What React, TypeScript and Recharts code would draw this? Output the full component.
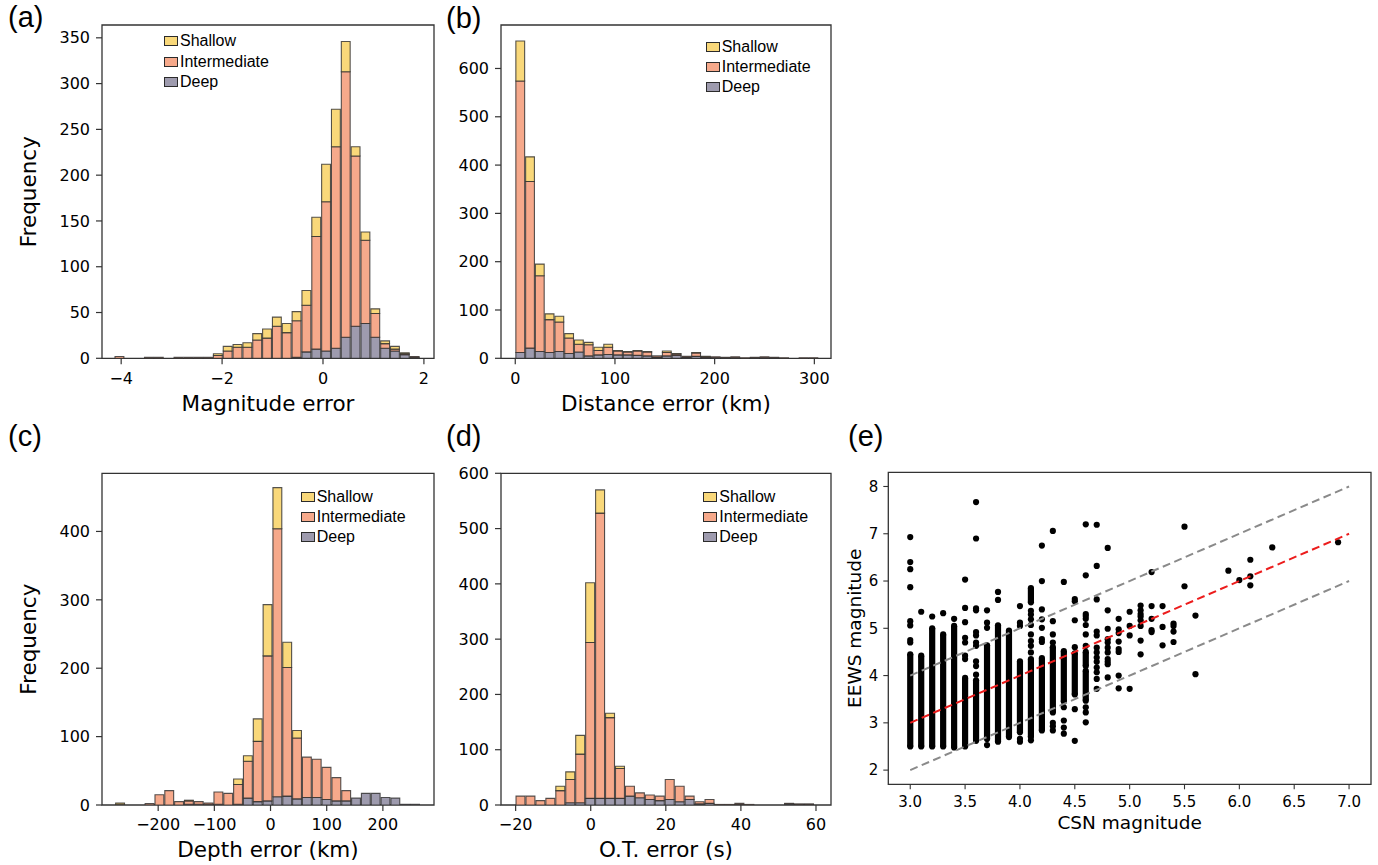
import React from 'react';
import { ComposedChart, ScatterChart, Bar, Scatter, XAxis, YAxis, Legend, ReferenceArea, Label } from 'recharts';

// ---------- shared series meta ----------
const SERIES_NAMES = ['Shallow', 'Intermediate', 'Deep'];
const SERIES_COLORS = ['#f9d87a', '#f6a98b', '#9e9bae'];
const EDGE = '#2b2b2b';

// ---------- (a) Magnitude error ----------
const MAG_BIN_START = -4.122;
const MAG_BIN_WIDTH = 0.195;
const MAG_DEEP = [0, 0, 0, 0, 0, 0, 0, 0, 0, 0, 0, 0, 0, 0, 0, 0, 0, 0, 1, 7, 10, 8, 11, 23, 35, 38, 23, 11, 8, 4, 1];
const MAG_INTER = [2, 0, 0, 1, 1, 0, 1, 1, 1, 1, 3, 8, 12, 12, 20, 22, 35, 28, 40, 51, 123, 163, 220, 290, 186, 91, 26, 5, 2, 1, 1];
const MAG_SHALLOW = [0, 0, 0, 0, 0, 0, 0, 0, 0, 0, 2, 5, 3, 5, 7, 10, 10, 10, 10, 16, 21, 41, 41, 33, 10, 9, 5, 3, 3, 1, 0];
const MAG_X_TICKS = [-4, -2, 0, 2];
const MAG_Y_TICKS = [0, 50, 100, 150, 200, 250, 300, 350];

// ---------- (b) Distance error ----------
const DIST_BIN_START = 0.6;
const DIST_BIN_WIDTH = 9.8;
const DIST_DEEP = [12, 21, 14, 12, 14, 10, 13, 5, 7, 8, 7, 7, 6, 5, 2, 5, 6, 2, 4, 1, 1, 1, 1, 0, 1, 1, 1, 0, 0, 0, 0];
const DIST_INTER = [562, 345, 157, 68, 61, 32, 16, 23, 9, 15, 8, 6, 9, 8, 3, 7, 3, 2, 7, 2, 2, 1, 2, 1, 1, 2, 1, 1, 0, 1, 1];
const DIST_SHALLOW = [83, 51, 24, 12, 12, 9, 9, 5, 7, 6, 1, 1, 1, 1, 0, 3, 1, 0, 1, 1, 0, 0, 0, 0, 0, 0, 0, 0, 0, 0, 0];
const DIST_X_TICKS = [0, 100, 200, 300];
const DIST_Y_TICKS = [0, 100, 200, 300, 400, 500, 600];

// ---------- (c) Depth error ----------
const DEPTH_BIN_START = -275.7;
const DEPTH_BIN_WIDTH = 17.5;
const DEPTH_DEEP = [0, 0, 0, 0, 0, 0, 0, 1, 1, 1, 1, 0, 1, 10, 5, 6, 12, 13, 9, 11, 11, 8, 6, 6, 10, 17, 17, 11, 10, 1, 1];
const DEPTH_INTER = [1, 0, 0, 2, 15, 21, 5, 5, 4, 2, 18, 17, 29, 54, 88, 212, 392, 188, 89, 59, 56, 47, 34, 15, 0, 0, 0, 0, 0, 0, 0];
const DEPTH_SHALLOW = [2, 0, 0, 0, 0, 0, 0, 1, 0, 0, 0, 0, 8, 8, 33, 75, 60, 37, 11, 0, 0, 0, 0, 0, 0, 0, 0, 0, 0, 0, 0];
const DEPTH_X_TICKS = [-200, -100, 0, 100, 200];
const DEPTH_Y_TICKS = [0, 100, 200, 300, 400];

// ---------- (d) Origin-time error ----------
const OT_BIN_START = -19.9;
const OT_BIN_WIDTH = 2.65;
const OT_DEEP = [0, 0, 0, 0, 0, 4, 4, 12, 12, 12, 12, 16, 13, 10, 8, 10, 6, 10, 2, 3, 0, 0, 1, 0, 0, 0, 0, 2, 1, 1];
const OT_INTER = [16, 16, 8, 12, 26, 42, 88, 282, 516, 146, 54, 18, 9, 8, 8, 36, 28, 6, 4, 7, 1, 1, 2, 1, 0, 0, 0, 1, 1, 1];
const OT_SHALLOW = [0, 0, 0, 0, 8, 14, 34, 108, 42, 8, 4, 0, 0, 0, 0, 0, 0, 0, 0, 0, 0, 0, 0, 0, 0, 0, 0, 0, 0, 0];
const OT_X_TICKS = [-20, 0, 20, 40, 60];
const OT_Y_TICKS = [0, 100, 200, 300, 400, 500, 600];

// ---------- (e) CSN vs EEWS magnitude ----------
const CSN_TICKS = [3.0, 3.5, 4.0, 4.5, 5.0, 5.5, 6.0, 6.5, 7.0];
const EEWS_TICKS = [2, 3, 4, 5, 6, 7, 8];
// dense runs of overlapping events: [CSN magnitude, lowest EEWS, highest EEWS]
const EEWS_DENSE: [number, number, number][] = [
  [3.0, 2.5, 4.45], [3.1, 2.5, 4.42], [3.2, 2.5, 5.0], [3.3, 2.5, 4.87], [3.4, 2.48, 5.05],
  [3.5, 2.5, 3.95], [3.6, 2.62, 3.9], [3.7, 2.66, 4.64], [3.8, 2.6, 5.06], [3.9, 2.7, 4.95],
  [4.0, 2.8, 4.3], [4.1, 2.7, 4.35], [4.1, 5.55, 5.85], [4.2, 2.84, 4.37], [4.3, 3.22, 4.6],
  [4.4, 3.45, 4.52], [4.5, 3.6, 4.47], [4.6, 4.2, 4.5], [4.6, 3.47, 4.1],
];
// individual events: [CSN magnitude, EEWS magnitudes]
const EEWS_ISOLATED: [number, number[]][] = [
  [3.0, [6.93, 6.4, 6.25, 5.87, 5.15, 5.06, 4.75, 4.7]],
  [3.1, [5.35]],
  [3.2, [5.25]],
  [3.3, [5.32]],
  [3.4, [5.2]],
  [3.5, [6.03, 5.43, 5.13, 4.8, 4.7, 4.42, 4.35]],
  [3.6, [7.67, 6.9, 5.42, 5.38, 4.92, 4.85, 4.7, 4.63, 4.3, 4.2, 4.02]],
  [3.7, [5.38, 5.12, 5.01, 2.53]],
  [3.8, [5.77, 5.6]],
  [4.0, [5.47, 5.12, 5.05, 2.66, 2.6]],
  [4.1, [5.37, 5.29, 5.19, 5.07, 4.87, 4.73, 4.63, 4.49, 2.63]],
  [4.2, [6.75, 6.0, 5.4, 5.19, 5.01, 4.77, 4.71]],
  [4.3, [7.06, 5.15, 4.87, 4.7, 3.0, 2.93, 2.84]],
  [4.4, [5.98, 3.33, 3.05, 2.9, 2.77]],
  [4.5, [5.62, 5.57, 5.17, 4.6, 3.29, 2.62]],
  [4.6, [7.2, 6.12, 5.3, 5.26, 5.2, 5.07, 4.87, 4.63, 3.33, 3.22, 3.01]],
  [4.7, [7.19, 6.32, 5.61, 4.93, 4.85, 4.59, 4.49, 4.38, 4.29, 4.17, 4.07, 3.93, 3.72]],
  [4.8, [6.7, 5.38, 4.99, 4.77, 4.7, 4.59, 4.49, 4.35, 4.29, 4.24, 3.96]],
  [4.9, [5.2, 4.98, 4.9, 4.72, 4.56, 4.5, 4.0, 3.73]],
  [5.0, [5.35, 5.05, 4.85, 3.72]],
  [5.1, [5.48, 5.38, 5.3, 5.25, 5.17, 5.05, 4.74, 4.45]],
  [5.2, [6.19, 5.47, 5.2, 4.96, 4.92]],
  [5.3, [5.47, 5.03, 4.64]],
  [5.4, [5.1, 5.05, 4.93, 4.71]],
  [5.5, [7.15, 5.89]],
  [5.6, [5.27, 4.03]],
  [5.9, [6.22]],
  [6.0, [6.02]],
  [6.1, [6.45, 6.1, 5.91]],
  [6.3, [6.71]],
  [6.9, [6.82]],
];
// reference lines: endpoints in CSN / EEWS units
const REF_LINES = [
  { name: 'plus one', x: [3, 7], y: [4, 8], color: '#8a8a8a' },
  { name: 'minus one', x: [3, 7], y: [2, 6], color: '#8a8a8a' },
  { name: 'one to one', x: [3, 7], y: [3, 7], color: '#ec1c1c' },
];

// ---------- styling ----------
const TICK_FONT = '"DejaVu Sans", sans-serif';
const TEXT_FONT = '"DejaVu Sans", sans-serif';
const LEGEND_FONT = '"Liberation Sans", Arial, sans-serif';
const fmtMinus = (v: number) => (v < 0 ? '\u2212' + Math.abs(v) : String(v));

type Box = { l: number; t: number; r: number; b: number };

function buildBins(start: number, width: number, deep: number[], inter: number[], shallow: number[]) {
  return deep.map((d, i) => ({ x: start + width * (i + 0.5), deep: d, inter: inter[i], shallow: shallow[i] }));
}

function HistLegend() {
  return (
    <div style={{ fontFamily: LEGEND_FONT, fontSize: 16, color: '#000', lineHeight: '20px' }}>
      {SERIES_NAMES.map((n, i) => (
        <div key={n} style={{ display: 'flex', alignItems: 'center', height: 20.2, whiteSpace: 'nowrap' }}>
          <span
            style={{
              display: 'inline-block',
              width: 14,
              height: 10,
              boxSizing: 'border-box',
              background: SERIES_COLORS[i],
              border: `1.4px solid ${EDGE}`,
            }}
          />
          <span style={{ marginLeft: 2 }}>{n}</span>
        </div>
      ))}
    </div>
  );
}

type HistProps = {
  origin: [number, number];
  size: [number, number];
  box: Box;
  xDomain: [number, number];
  yDomain: [number, number];
  xTicks: number[];
  yTicks: number[];
  data: { x: number; deep: number; inter: number; shallow: number }[];
  binWidth: number;
  xLabel: string;
  yLabel?: string;
  panel: string;
  panelPos: [number, number];
  legendPos: [number, number];
};

function Hist(p: HistProps) {
  const [ox, oy] = p.origin;
  const [W, H] = p.size;
  const YW = 50;
  const XH = 60;
  const margin = {
    top: p.box.t - oy,
    right: ox + W - p.box.r,
    bottom: oy + H - p.box.b - XH,
    left: p.box.l - ox - YW,
  };
  const pxPerUnit = (p.box.r - p.box.l) / (p.xDomain[1] - p.xDomain[0]);
  const barSize = p.binWidth * pxPerUnit;
  const labels = () => (
    <g>
      <text
        x={(p.box.l + p.box.r) / 2 - ox}
        y={p.box.b + 52.4 - oy}
        textAnchor="middle"
        fontFamily={TEXT_FONT}
        fontSize={21.5}
        fill="#000"
      >
        {p.xLabel}
      </text>
      {p.yLabel ? (
        <text
          transform={`translate(${36 - ox}, ${(p.box.t + p.box.b) / 2 - oy}) rotate(-90)`}
          textAnchor="middle"
          fontFamily={TEXT_FONT}
          fontSize={21.5}
          fill="#000"
        >
          {p.yLabel}
        </text>
      ) : null}
      <text x={p.panelPos[0] - ox} y={p.panelPos[1] - oy} fontFamily={LEGEND_FONT} fontSize={29} fill="#000">
        {p.panel}
      </text>
    </g>
  );
  const barCommon = {
    stackId: 's',
    stroke: EDGE,
    strokeWidth: 1.1,
    strokeOpacity: 0.8,
    barSize,
    isAnimationActive: false,
  };
  return (
    <div style={{ position: 'absolute', left: ox, top: oy, width: W, height: H }}>
      <ComposedChart width={W} height={H} data={p.data} margin={margin} barCategoryGap={0} barGap={0}>
        <XAxis
          type="number"
          dataKey="x"
          domain={p.xDomain}
          allowDataOverflow
          ticks={p.xTicks}
          interval={0}
          tickFormatter={fmtMinus}
          height={XH}
          axisLine={false}
          tickLine={{ stroke: '#333', strokeWidth: 1.2 }}
          tickSize={6}
          tickMargin={8}
          tick={{ fontSize: 16, fontFamily: TICK_FONT, fill: '#000' }}
        >
          <Label content={labels} />
        </XAxis>
        <YAxis
          type="number"
          domain={p.yDomain}
          allowDataOverflow
          ticks={p.yTicks}
          interval={0}
          width={YW}
          axisLine={false}
          tickLine={{ stroke: '#333', strokeWidth: 1.2 }}
          tickSize={6}
          tickMargin={6}
          tick={{ fontSize: 16, fontFamily: TICK_FONT, fill: '#000' }}
        />
        <Bar dataKey="deep" name={SERIES_NAMES[2]} fill={SERIES_COLORS[2]} {...barCommon} />
        <Bar dataKey="inter" name={SERIES_NAMES[1]} fill={SERIES_COLORS[1]} {...barCommon} />
        <Bar dataKey="shallow" name={SERIES_NAMES[0]} fill={SERIES_COLORS[0]} {...barCommon} />
        <ReferenceArea
          x1={p.xDomain[0]}
          x2={p.xDomain[1]}
          y1={p.yDomain[0]}
          y2={p.yDomain[1]}
          fill="none"
          fillOpacity={0}
          stroke="#333"
          strokeWidth={1.3}
          ifOverflow="visible"
        />
        <Legend
          layout="vertical"
          align="center"
          verticalAlign="middle"
          wrapperStyle={{ left: p.legendPos[0] - ox, top: p.legendPos[1] - oy, width: 'auto', height: 'auto' }}
          content={() => <HistLegend />}
        />
      </ComposedChart>
    </div>
  );
}

const dotShape = (props: any) => <circle cx={props.cx} cy={props.cy} r={3.1} fill="#000" />;
const noShape = () => <g />;

function ScatterPanel() {
  const ox = 840;
  const oy = 420;
  const W = 538;
  const H = 445;
  const box: Box = { l: 888.3, t: 472.3, r: 1371, b: 784.3 };
  const YW = 40;
  const XH = 60;
  const margin = {
    top: box.t - oy,
    right: ox + W - box.r,
    bottom: oy + H - box.b - XH,
    left: box.l - ox - YW,
  };
  const xDomain: [number, number] = [2.8, 7.2];
  const yDomain: [number, number] = [1.7, 8.3];
  const isolated = EEWS_ISOLATED.flatMap(([x, ys]) => ys.map((y) => ({ x, y })));
  const labels = () => (
    <g>
      <text x={(box.l + box.r) / 2 - ox} y={829.3 - oy} textAnchor="middle" fontFamily={TEXT_FONT} fontSize={18.5} fill="#000">
        CSN magnitude
      </text>
      <text
        transform={`translate(${861 - ox}, ${(box.t + box.b) / 2 - oy}) rotate(-90)`}
        textAnchor="middle"
        fontFamily={TEXT_FONT}
        fontSize={18.5}
        fill="#000"
      >
        EEWS magnitude
      </text>
      <text x={848 - ox} y={446 - oy} fontFamily={LEGEND_FONT} fontSize={29} fill="#000">
        (e)
      </text>
    </g>
  );
  return (
    <div style={{ position: 'absolute', left: ox, top: oy, width: W, height: H }}>
      <ScatterChart width={W} height={H} margin={margin}>
        <XAxis
          type="number"
          dataKey="x"
          domain={xDomain}
          allowDataOverflow
          ticks={CSN_TICKS}
          interval={0}
          tickFormatter={(v: number) => v.toFixed(1)}
          height={XH}
          axisLine={false}
          tickLine={{ stroke: '#333', strokeWidth: 1.1 }}
          tickSize={5}
          tickMargin={7}
          tick={{ fontSize: 15, fontFamily: TICK_FONT, fill: '#000' }}
        >
          <Label content={labels} />
        </XAxis>
        <YAxis
          type="number"
          dataKey="y"
          domain={yDomain}
          allowDataOverflow
          ticks={EEWS_TICKS}
          interval={0}
          width={YW}
          axisLine={false}
          tickLine={{ stroke: '#333', strokeWidth: 1.1 }}
          tickSize={5}
          tickMargin={5}
          tick={{ fontSize: 15, fontFamily: TICK_FONT, fill: '#000' }}
        />
        {EEWS_DENSE.map(([x, lo, hi], i) => (
          <Scatter
            key={'d' + i}
            data={[
              { x, y: lo },
              { x, y: hi },
            ]}
            line={{ stroke: '#000', strokeWidth: 6.2 }}
            shape={dotShape}
            isAnimationActive={false}
          />
        ))}
        <Scatter data={isolated} shape={dotShape} isAnimationActive={false} />
        {REF_LINES.map((l) => (
          <Scatter
            key={l.name}
            name={l.name}
            data={[
              { x: l.x[0], y: l.y[0] },
              { x: l.x[1], y: l.y[1] },
            ]}
            line={{ stroke: l.color, strokeWidth: 2, strokeDasharray: '8 4.5' }}
            shape={noShape}
            isAnimationActive={false}
          />
        ))}
        <ReferenceArea
          x1={xDomain[0]}
          x2={xDomain[1]}
          y1={yDomain[0]}
          y2={yDomain[1]}
          fill="none"
          fillOpacity={0}
          stroke="#333"
          strokeWidth={1.3}
          ifOverflow="visible"
        />
      </ScatterChart>
    </div>
  );
}

export default function App() {
  return (
    <div style={{ position: 'absolute', left: 0, top: 0, width: 1378, height: 865, background: '#fff', overflow: 'hidden' }}>
      <Hist
        origin={[0, 0]}
        size={[440, 420]}
        box={{ l: 102, t: 25, r: 434, b: 358.3 }}
        xDomain={[-4.38, 2.2]}
        yDomain={[0, 364]}
        xTicks={MAG_X_TICKS}
        yTicks={MAG_Y_TICKS}
        data={buildBins(MAG_BIN_START, MAG_BIN_WIDTH, MAG_DEEP, MAG_INTER, MAG_SHALLOW)}
        binWidth={MAG_BIN_WIDTH}
        xLabel="Magnitude error"
        yLabel="Frequency"
        panel="(a)"
        panelPos={[8, 27]}
        legendPos={[164, 31.3]}
      />
      <Hist
        origin={[440, 0]}
        size={[400, 420]}
        box={{ l: 501, t: 25, r: 831, b: 358.3 }}
        xDomain={[-14.3, 316.7]}
        yDomain={[0, 690]}
        xTicks={DIST_X_TICKS}
        yTicks={DIST_Y_TICKS}
        data={buildBins(DIST_BIN_START, DIST_BIN_WIDTH, DIST_DEEP, DIST_INTER, DIST_SHALLOW)}
        binWidth={DIST_BIN_WIDTH}
        xLabel="Distance error (km)"
        panel="(b)"
        panelPos={[446, 28]}
        legendPos={[705.7, 37]}
      />
      <Hist
        origin={[0, 420]}
        size={[440, 445]}
        box={{ l: 102, t: 473.3, r: 434, b: 805 }}
        xDomain={[-300, 291]}
        yDomain={[0, 485]}
        xTicks={DEPTH_X_TICKS}
        yTicks={DEPTH_Y_TICKS}
        data={buildBins(DEPTH_BIN_START, DEPTH_BIN_WIDTH, DEPTH_DEEP, DEPTH_INTER, DEPTH_SHALLOW)}
        binWidth={DEPTH_BIN_WIDTH}
        xLabel="Depth error (km)"
        yLabel="Frequency"
        panel="(c)"
        panelPos={[8, 446]}
        legendPos={[300.7, 486.5]}
      />
      <Hist
        origin={[440, 420]}
        size={[400, 445]}
        box={{ l: 501, t: 473.3, r: 831, b: 805 }}
        xDomain={[-23.9, 64]}
        yDomain={[0, 600]}
        xTicks={OT_X_TICKS}
        yTicks={OT_Y_TICKS}
        data={buildBins(OT_BIN_START, OT_BIN_WIDTH, OT_DEEP, OT_INTER, OT_SHALLOW)}
        binWidth={OT_BIN_WIDTH}
        xLabel="O.T. error (s)"
        panel="(d)"
        panelPos={[446, 446]}
        legendPos={[703.3, 486.5]}
      />
      <ScatterPanel />
    </div>
  );
}
